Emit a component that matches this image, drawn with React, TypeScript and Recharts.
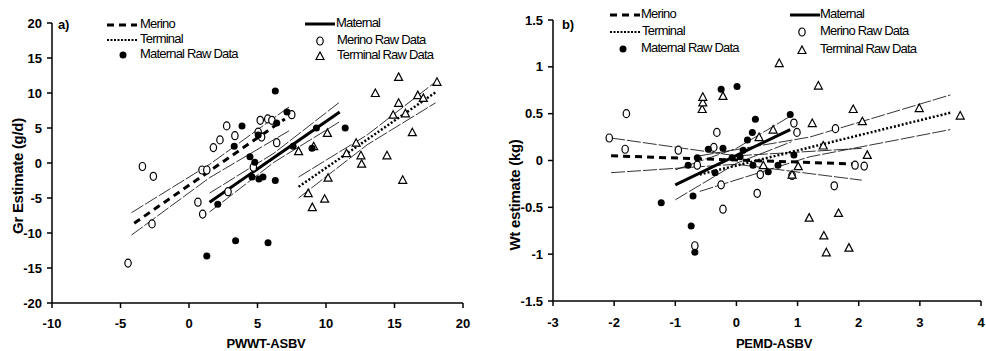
import React from "react";
import { ScatterChart, Scatter, XAxis, YAxis, Legend } from "recharts";

type Pt = { x: number; y: number };

// ---- panel a) PWWT-ASBV vs Gr estimate ----
const merinoRawA: Pt[] = [
  { x: -4.45, y: -14.3 }, { x: -3.4, y: -0.5 }, { x: -2.6, y: -1.9 }, { x: -2.7, y: -8.7 },
  { x: 0.65, y: -5.6 }, { x: 1.0, y: -7.3 }, { x: 0.95, y: -1.0 }, { x: 1.3, y: -1.0 },
  { x: 1.78, y: 2.2 }, { x: 2.26, y: 3.3 }, { x: 2.75, y: 5.3 }, { x: 3.35, y: 3.9 },
  { x: 2.85, y: -4.1 }, { x: 5.2, y: 6.1 }, { x: 5.75, y: 6.3 }, { x: 6.05, y: 6.1 },
  { x: 7.5, y: 6.9 }, { x: 5.05, y: 4.4 }, { x: 5.3, y: 3.7 }, { x: 6.4, y: 2.9 },
  { x: 4.7, y: -0.6 },
];
const maternalRawA: Pt[] = [
  { x: 1.3, y: -13.3 }, { x: 3.4, y: -11.1 }, { x: 5.77, y: -11.4 }, { x: 2.1, y: -5.9 },
  { x: 3.3, y: 2.4 }, { x: 3.87, y: 5.3 }, { x: 5.05, y: 4.0 }, { x: 6.4, y: 5.7 },
  { x: 6.3, y: 10.3 }, { x: 7.15, y: 7.3 }, { x: 9.3, y: 5.0 }, { x: 11.4, y: 5.0 },
  { x: 7.6, y: 2.4 }, { x: 8.98, y: 2.1 }, { x: 4.45, y: 0.9 }, { x: 4.8, y: 0.1 },
  { x: 4.6, y: -2.0 }, { x: 5.1, y: -2.3 }, { x: 5.4, y: -2.0 }, { x: 6.3, y: -2.5 },
];
const terminalRawA: Pt[] = [
  { x: 15.3, y: 12.3 }, { x: 18.1, y: 11.6 }, { x: 13.6, y: 10.0 }, { x: 15.3, y: 8.6 },
  { x: 16.7, y: 9.7 }, { x: 17.1, y: 9.3 }, { x: 14.9, y: 6.9 }, { x: 15.8, y: 7.1 },
  { x: 16.3, y: 4.4 }, { x: 12.2, y: 2.9 }, { x: 10.1, y: 4.3 }, { x: 8.0, y: 1.7 },
  { x: 9.1, y: 2.4 }, { x: 14.45, y: 1.1 }, { x: 12.55, y: 1.1 }, { x: 12.6, y: -0.1 },
  { x: 11.5, y: 1.4 }, { x: 10.15, y: -2.1 }, { x: 15.6, y: -2.4 }, { x: 8.7, y: -4.3 },
  { x: 9.9, y: -5.1 }, { x: 9.0, y: -6.3 },
];
const merinoFitA: Pt[] = [{ x: -4, y: -8.6 }, { x: 7, y: 6.3 }];
const merinoUpA: Pt[] = [{ x: -4.2, y: -7.1 }, { x: 1.5, y: -0.2 }, { x: 7.3, y: 8.0 }];
const merinoLoA: Pt[] = [{ x: -4.2, y: -10.3 }, { x: 1.5, y: -2.1 }, { x: 7.3, y: 4.6 }];
const maternalFitA: Pt[] = [{ x: 1.5, y: -5.6 }, { x: 11, y: 7.3 }];
const maternalUpA: Pt[] = [{ x: 1.5, y: -4.3 }, { x: 6.2, y: 1.4 }, { x: 11, y: 8.7 }];
const maternalLoA: Pt[] = [{ x: 1.5, y: -7.0 }, { x: 6.2, y: 0.1 }, { x: 11, y: 5.9 }];
const terminalFitA: Pt[] = [{ x: 8, y: -3.4 }, { x: 18, y: 10.1 }];
const terminalUpA: Pt[] = [{ x: 8, y: -2.0 }, { x: 13, y: 4.0 }, { x: 18, y: 11.6 }];
const terminalLoA: Pt[] = [{ x: 8, y: -5.0 }, { x: 13, y: 2.6 }, { x: 18, y: 8.6 }];
const xTicksA = [-10, -5, 0, 5, 10, 15, 20];
const yTicksA = [-20, -15, -10, -5, 0, 5, 10, 15, 20];

// ---- panel b) PEMD-ASBV vs Wt estimate ----
const merinoRawB: Pt[] = [
  { x: -2.08, y: 0.24 }, { x: -1.8, y: 0.5 }, { x: -1.82, y: 0.12 }, { x: -0.95, y: 0.11 },
  { x: -0.64, y: -0.05 }, { x: -0.32, y: 0.3 }, { x: -0.37, y: 0.14 }, { x: -0.25, y: -0.26 },
  { x: -0.22, y: -0.52 }, { x: -0.68, y: -0.91 }, { x: 0.94, y: 0.4 }, { x: 0.99, y: 0.3 },
  { x: 1.62, y: 0.34 }, { x: 0.39, y: -0.15 }, { x: 0.91, y: -0.16 }, { x: 0.34, y: -0.35 },
  { x: 1.6, y: -0.27 }, { x: 1.94, y: -0.05 }, { x: 2.09, y: -0.06 },
];
const maternalRawB: Pt[] = [
  { x: -1.23, y: -0.45 }, { x: -0.74, y: -0.7 }, { x: -0.68, y: -0.98 }, { x: -0.71, y: -0.38 },
  { x: -0.79, y: -0.05 }, { x: -0.64, y: 0.03 }, { x: -0.46, y: 0.12 }, { x: -0.35, y: -0.13 },
  { x: -0.25, y: 0.76 }, { x: 0.01, y: 0.79 }, { x: -0.22, y: 0.13 }, { x: -0.07, y: 0.03 },
  { x: 0.06, y: 0.04 }, { x: 0.11, y: 0.11 }, { x: 0.18, y: 0.22 }, { x: 0.26, y: 0.3 },
  { x: 0.31, y: 0.44 }, { x: 0.27, y: -0.05 }, { x: 0.52, y: -0.12 }, { x: 0.68, y: -0.05 },
  { x: 0.88, y: 0.49 }, { x: 0.94, y: 0.06 },
];
const terminalRawB: Pt[] = [
  { x: -0.56, y: 0.55 }, { x: -0.55, y: 0.62 }, { x: -0.55, y: 0.68 }, { x: -0.22, y: 0.69 },
  { x: 0.7, y: 1.04 }, { x: 1.34, y: 0.8 }, { x: 1.91, y: 0.55 }, { x: 2.06, y: 0.42 },
  { x: 1.24, y: 0.4 }, { x: 0.6, y: 0.33 }, { x: 0.37, y: 0.25 }, { x: 1.42, y: 0.16 },
  { x: 0.44, y: -0.05 }, { x: 1.01, y: -0.06 }, { x: 0.91, y: -0.15 }, { x: 2.14, y: 0.06 },
  { x: 2.99, y: 0.56 }, { x: 3.66, y: 0.48 }, { x: 1.19, y: -0.61 }, { x: 1.67, y: -0.56 },
  { x: 1.43, y: -0.8 }, { x: 1.47, y: -0.98 }, { x: 1.84, y: -0.93 },
];
const merinoFitB: Pt[] = [{ x: -2.05, y: 0.05 }, { x: 2.05, y: -0.04 }];
const merinoUpB: Pt[] = [{ x: -2.05, y: 0.24 }, { x: 0, y: 0.05 }, { x: 2.05, y: 0.13 }];
const merinoLoB: Pt[] = [{ x: -2.05, y: -0.13 }, { x: 0, y: -0.04 }, { x: 2.05, y: -0.21 }];
const maternalFitB: Pt[] = [{ x: -1.0, y: -0.26 }, { x: 0.88, y: 0.33 }];
const maternalUpB: Pt[] = [{ x: -1.0, y: -0.1 }, { x: 0, y: 0.13 }, { x: 0.9, y: 0.48 }];
const maternalLoB: Pt[] = [{ x: -1.0, y: -0.42 }, { x: 0, y: -0.03 }, { x: 0.9, y: 0.2 }];
const terminalFitB: Pt[] = [{ x: -0.6, y: -0.15 }, { x: 3.5, y: 0.51 }];
const terminalUpB: Pt[] = [{ x: -0.6, y: 0.05 }, { x: 1.2, y: 0.25 }, { x: 3.5, y: 0.7 }];
const terminalLoB: Pt[] = [{ x: -0.6, y: -0.33 }, { x: 1.2, y: 0.04 }, { x: 3.5, y: 0.33 }];
const xTicksB = [-3, -2, -1, 0, 1, 2, 3, 4];
const yTicksB = [-1.5, -1, -0.5, 0, 0.5, 1, 1.5];

const FONT = '"Liberation Sans", Arial, sans-serif';

const openCircle = (p: any) => (
  <ellipse cx={p.cx} cy={p.cy} rx={3.2} ry={4} fill="#fff" stroke="#000" strokeWidth={1.2} />
);
const filledDot = (p: any) => <circle cx={p.cx} cy={p.cy} r={3.5} fill="#000" />;
const triangle = (p: any) => (
  <path
    d={`M${p.cx},${p.cy - 4}L${p.cx + 4},${p.cy + 3.5}L${p.cx - 4},${p.cy + 3.5}Z`}
    fill="#fff"
    stroke="#000"
    strokeWidth={1.2}
  />
);
const noShape = () => <g />;

const solidFit = { stroke: "#000", strokeWidth: 3 };
const dashedFit = { stroke: "#000", strokeWidth: 3, strokeDasharray: "7 5" };
const dottedFit = { stroke: "#000", strokeWidth: 2.5, strokeDasharray: "2 2" };
const band = { stroke: "#000", strokeWidth: 0.8, strokeDasharray: "14 2" };

const tickStyle = { fill: "#000", fontSize: 13, fontWeight: "bold", fontFamily: FONT };
const axisStyle = { stroke: "#000", strokeWidth: 1.5 };

const legendText: React.CSSProperties = {
  position: "absolute",
  fontFamily: FONT,
  fontSize: 13,
  letterSpacing: -0.8,
  lineHeight: "16px",
  color: "#000",
  whiteSpace: "nowrap",
};

function Sym({ kind, x, y }: { kind: string; x: number; y: number }) {
  return (
    <svg style={{ position: "absolute", left: x - 16, top: y - 6 }} width={32} height={12}>
      {kind === "dashed" && <line x1={1} x2={31} y1={6} y2={6} {...dashedFit} />}
      {kind === "dotted" && <line x1={1} x2={31} y1={6} y2={6} stroke="#000" strokeWidth={2} strokeDasharray="2 1.5" />}
      {kind === "solid" && <line x1={1} x2={31} y1={6} y2={6} {...solidFit} />}
      {kind === "dot" && filledDot({ cx: 16, cy: 6 })}
      {kind === "circle" && openCircle({ cx: 16, cy: 6 })}
      {kind === "triangle" && triangle({ cx: 16, cy: 6 })}
    </svg>
  );
}

type LegendRow = { label: string; kind: string; sx: number; tx: number; y: number };

function PanelLegend({ tag, tagX, rows }: { tag: string; tagX: number; rows: LegendRow[] }) {
  return (
    <div style={{ position: "relative", width: 493, height: 70 }}>
      <div style={{ ...legendText, left: tagX, top: 17, fontWeight: "bold", letterSpacing: -0.3 }}>{tag}</div>
      {rows.map((r) => (
        <React.Fragment key={r.label}>
          <Sym kind={r.kind} x={r.sx} y={r.y} />
          <div style={{ ...legendText, left: r.tx, top: r.y - 9 }}>{r.label}</div>
        </React.Fragment>
      ))}
    </div>
  );
}

const axisTitle = (txt: string, x: number, y: number, rotate: boolean) => () => (
  <text
    x={x}
    y={y}
    transform={rotate ? `rotate(-90 ${x} ${y})` : undefined}
    textAnchor="middle"
    dominantBaseline="central"
    fontFamily={FONT}
    fontWeight="bold"
    fontSize={rotate ? 15 : 13}
    letterSpacing={rotate ? -0.3 : -0.2}
    fill="#000"
  >
    {txt}
  </text>
);

export default function App() {
  return (
    <div style={{ position: "absolute", left: 0, top: 0, width: 986, height: 351, background: "#fff" }}>
      <div style={{ position: "absolute", left: 0, top: 0 }}>
        <ScatterChart width={493} height={351} margin={{ top: 23, right: 30, bottom: 0, left: 0 }}>
          <XAxis
            type="number"
            dataKey="x"
            domain={[-10, 20]}
            ticks={xTicksA}
            height={48}
            tick={tickStyle}
            axisLine={axisStyle}
            tickLine={axisStyle}
            tickSize={5}
            tickMargin={11}
            label={{ content: axisTitle("PWWT-ASBV", 266, 343, false) }}
          />
          <YAxis
            type="number"
            dataKey="y"
            domain={[-20, 20]}
            ticks={yTicksA}
            width={52}
            tick={tickStyle}
            axisLine={axisStyle}
            tickLine={axisStyle}
            tickSize={5}
            tickMargin={5}
            label={{ content: axisTitle("Gr Estimate (g/d)", 17, 176, true) }}
          />
          <Legend
            layout="horizontal"
            verticalAlign="middle"
            align="center"
            wrapperStyle={{ left: 0, top: 0, width: 493, height: 70 }}
            content={() => (
              <PanelLegend
                tag="a)"
                tagX={58}
                rows={[
                  { label: "Merino", kind: "dashed", sx: 122, tx: 140, y: 25 },
                  { label: "Terminal", kind: "dotted", sx: 122, tx: 140, y: 40 },
                  { label: "Maternal Raw Data", kind: "dot", sx: 123, tx: 140, y: 55 },
                  { label: "Maternal", kind: "solid", sx: 320, tx: 336, y: 24 },
                  { label: "Merino Raw Data", kind: "circle", sx: 320, tx: 337, y: 41 },
                  { label: "Terminal Raw Data", kind: "triangle", sx: 320, tx: 337, y: 56 },
                ]}
              />
            )}
          />
          <Scatter data={merinoUpA} line={band} lineType="joint" shape={noShape} isAnimationActive={false} />
          <Scatter data={merinoLoA} line={band} lineType="joint" shape={noShape} isAnimationActive={false} />
          <Scatter data={maternalUpA} line={band} lineType="joint" shape={noShape} isAnimationActive={false} />
          <Scatter data={maternalLoA} line={band} lineType="joint" shape={noShape} isAnimationActive={false} />
          <Scatter data={terminalUpA} line={band} lineType="joint" shape={noShape} isAnimationActive={false} />
          <Scatter data={terminalLoA} line={band} lineType="joint" shape={noShape} isAnimationActive={false} />
          <Scatter data={merinoFitA} line={dashedFit} lineType="joint" shape={noShape} isAnimationActive={false} />
          <Scatter data={maternalFitA} line={solidFit} lineType="joint" shape={noShape} isAnimationActive={false} />
          <Scatter data={terminalFitA} line={dottedFit} lineType="joint" shape={noShape} isAnimationActive={false} />
          <Scatter data={merinoRawA} shape={openCircle} isAnimationActive={false} />
          <Scatter data={terminalRawA} shape={triangle} isAnimationActive={false} />
          <Scatter data={maternalRawA} shape={filledDot} isAnimationActive={false} />
        </ScatterChart>
      </div>
      <div style={{ position: "absolute", left: 493, top: 0 }}>
        <ScatterChart width={493} height={351} margin={{ top: 20, right: 5, bottom: 0, left: 0 }}>
          <XAxis
            type="number"
            dataKey="x"
            domain={[-3, 4]}
            ticks={xTicksB}
            height={50}
            tick={tickStyle}
            axisLine={axisStyle}
            tickLine={axisStyle}
            tickSize={5}
            tickMargin={12}
            label={{ content: axisTitle("PEMD-ASBV", 281, 343, false) }}
          />
          <YAxis
            type="number"
            dataKey="y"
            domain={[-1.5, 1.5]}
            ticks={yTicksB}
            width={60}
            tick={tickStyle}
            axisLine={axisStyle}
            tickLine={axisStyle}
            tickSize={5}
            tickMargin={5}
            label={{ content: axisTitle("Wt estimate (kg)", 21, 195, true) }}
          />
          <Legend
            layout="horizontal"
            verticalAlign="middle"
            align="center"
            wrapperStyle={{ left: 0, top: 0, width: 493, height: 70 }}
            content={() => (
              <PanelLegend
                tag="b)"
                tagX={69}
                rows={[
                  { label: "Merino", kind: "dashed", sx: 132, tx: 148, y: 15 },
                  { label: "Terminal", kind: "dotted", sx: 132, tx: 149, y: 32 },
                  { label: "Maternal Raw Data", kind: "dot", sx: 130, tx: 148, y: 49 },
                  { label: "Maternal", kind: "solid", sx: 312, tx: 327, y: 15 },
                  { label: "Merino Raw Data", kind: "circle", sx: 309, tx: 327, y: 32 },
                  { label: "Terminal Raw Data", kind: "triangle", sx: 309, tx: 327, y: 50 },
                ]}
              />
            )}
          />
          <Scatter data={merinoUpB} line={band} lineType="joint" shape={noShape} isAnimationActive={false} />
          <Scatter data={merinoLoB} line={band} lineType="joint" shape={noShape} isAnimationActive={false} />
          <Scatter data={maternalUpB} line={band} lineType="joint" shape={noShape} isAnimationActive={false} />
          <Scatter data={maternalLoB} line={band} lineType="joint" shape={noShape} isAnimationActive={false} />
          <Scatter data={terminalUpB} line={band} lineType="joint" shape={noShape} isAnimationActive={false} />
          <Scatter data={terminalLoB} line={band} lineType="joint" shape={noShape} isAnimationActive={false} />
          <Scatter data={merinoFitB} line={dashedFit} lineType="joint" shape={noShape} isAnimationActive={false} />
          <Scatter data={maternalFitB} line={solidFit} lineType="joint" shape={noShape} isAnimationActive={false} />
          <Scatter data={terminalFitB} line={dottedFit} lineType="joint" shape={noShape} isAnimationActive={false} />
          <Scatter data={merinoRawB} shape={openCircle} isAnimationActive={false} />
          <Scatter data={terminalRawB} shape={triangle} isAnimationActive={false} />
          <Scatter data={maternalRawB} shape={filledDot} isAnimationActive={false} />
        </ScatterChart>
      </div>
    </div>
  );
}
